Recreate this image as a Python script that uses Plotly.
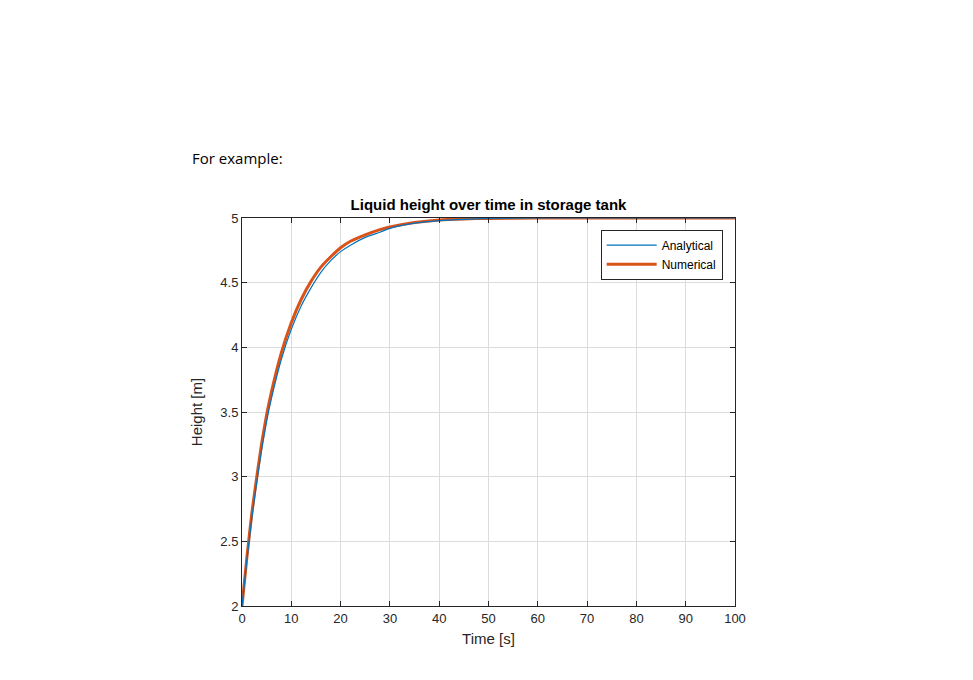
import plotly.graph_objects as go

time_s = [0, 1, 2, 3, 4, 5, 6, 8, 10, 12, 14, 16, 18, 20, 22, 25, 28, 30, 35, 40, 45, 50, 60, 70, 80, 90, 100]
analytical = [2, 2.36, 2.68, 2.96, 3.21, 3.43, 3.61, 3.91, 4.14, 4.32, 4.46, 4.58, 4.67, 4.74, 4.79, 4.85,
              4.89, 4.92, 4.96, 4.98, 4.99, 4.996, 5, 5, 5, 5, 5]
numerical = [2, 2.38, 2.72, 3.00, 3.26, 3.48, 3.66, 3.96, 4.19, 4.37, 4.51, 4.62, 4.70, 4.77, 4.82, 4.87,
             4.91, 4.93, 4.965, 4.985, 4.993, 4.997, 5, 5, 5, 5, 5]

# page body adds an 8px offset, so everything is placed 8px up/left
OFF = 8
W, H = 973, 680
L, R, T, B = 242 - OFF, 735 - OFF, 218 - OFF, 606 - OFF

fig = go.Figure()
fig.add_trace(go.Scatter(x=time_s, y=numerical, name="Numerical", mode="lines",
                         line=dict(color="#D95319", width=3, shape="spline", smoothing=0.5)))
fig.add_trace(go.Scatter(x=time_s, y=analytical, name="Analytical", mode="lines",
                         line=dict(color="#0072BD", width=1.2, shape="spline", smoothing=0.5)))

axis_common = dict(showgrid=True, gridcolor="#dcdcdc", gridwidth=1, zeroline=False,
                   showline=True, linecolor="#262626", linewidth=1, mirror="ticks",
                   ticks="inside", ticklen=5, tickcolor="#262626",
                   tickfont=dict(size=13, color="#262626"))

fig.update_layout(
    width=W, height=H,
    margin=dict(l=L, r=W - R, t=T, b=H - B),
    paper_bgcolor="white", plot_bgcolor="white",
    font=dict(family="Liberation Sans, Arial, sans-serif", color="#262626"),
    title=dict(text="<b>Liquid height over time in storage tank</b>", x=(L + R) / 2 / W, xanchor="center",
               y=1 - (205 - OFF) / H, yanchor="middle", font=dict(size=15, color="black")),
    xaxis=dict(range=[0, 100], tickvals=list(range(0, 101, 10)),
               title=dict(text="Time [s]", font=dict(size=15), standoff=8), **axis_common),
    yaxis=dict(range=[2, 5], tickvals=[2, 2.5, 3, 3.5, 4, 4.5, 5],
               title=dict(text="Height [m]", font=dict(size=15), standoff=14), **axis_common),
    legend=dict(x=0.975, y=0.97, xanchor="right", yanchor="top", traceorder="reversed",
                bgcolor="white", bordercolor="#262626", borderwidth=1,
                font=dict(size=12, color="black"), itemwidth=50, tracegroupgap=0),
    showlegend=True,
    annotations=[dict(text="For example:", xref="paper", yref="paper",
                      x=(190 - OFF - L) / (R - L), y=(B - (158 - OFF)) / (B - T),
                      xanchor="left", yanchor="middle",
                      showarrow=False, font=dict(family="Open Sans, sans-serif", size=15, color="black"))],
)

fig.write_html("out.html")
